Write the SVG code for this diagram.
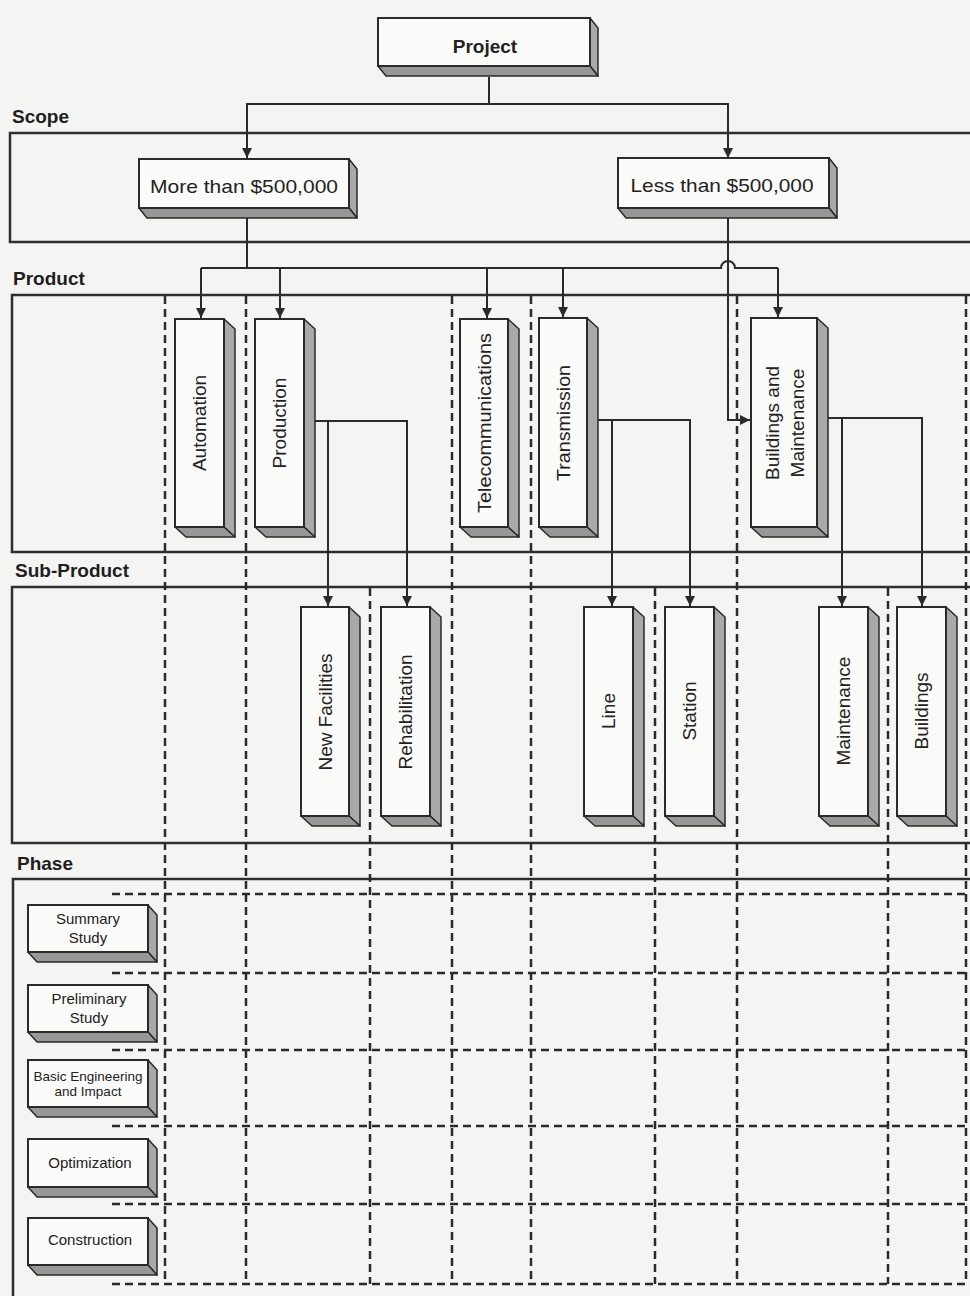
<svg xmlns="http://www.w3.org/2000/svg" width="970" height="1296" viewBox="0 0 970 1296">
<defs>
<marker id="ah" viewBox="0 0 10 10" refX="10" refY="5" markerWidth="10" markerHeight="10" markerUnits="userSpaceOnUse" orient="auto">
<path d="M0,0 L10,5 L0,10 z" fill="#2a2a2a"/>
</marker>
<style>
.bg{fill:#f4f4f2}
.band{fill:none;stroke:#2e2e2e;stroke-width:2.5}
.dash{fill:none;stroke:#2a2a2a;stroke-width:2.5;stroke-dasharray:8 5}
.front{fill:#fafaf8;stroke:#2a2a2a;stroke-width:2}
.side{fill:#a9a9a9;stroke:#2a2a2a;stroke-width:1.5;stroke-linejoin:round}
.bot{fill:#979797;stroke:#2a2a2a;stroke-width:1.5;stroke-linejoin:round}
.conn{fill:none;stroke:#2a2a2a;stroke-width:2}
.lbl{font-family:"Liberation Sans",Arial,sans-serif;font-weight:bold;font-size:19px;fill:#1e1e1e}
.t{font-family:"Liberation Sans",Arial,sans-serif;font-size:19px;fill:#222;text-anchor:middle}
.tb{font-family:"Liberation Sans",Arial,sans-serif;font-size:19px;font-weight:bold;fill:#222;text-anchor:middle}
.ts{font-family:"Liberation Sans",Arial,sans-serif;font-size:15px;fill:#222;text-anchor:middle}
.tx{font-family:"Liberation Sans",Arial,sans-serif;font-size:13.5px;fill:#222;text-anchor:middle}
</style>
</defs>
<rect class="bg" x="0" y="0" width="970" height="1296"/>

<!-- bands -->
<g id="bands">
<text class="lbl" x="12" y="123">Scope</text>
<rect class="band" x="10" y="133" width="970" height="109"/>
<text class="lbl" x="13" y="285">Product</text>
<rect class="band" x="12" y="295" width="970" height="257"/>
<text class="lbl" x="15" y="577">Sub-Product</text>
<rect class="band" x="12" y="587" width="970" height="256"/>
<text class="lbl" x="17" y="870">Phase</text>
<path class="band" d="M980,879 H13 V1300"/>
</g>

<!-- grid -->
<g id="grid">
<path class="dash" d="M165,296 V1284 M246,296 V1284 M452,296 V1284 M531,296 V1284 M737,296 V1284 M966,296 V1284"/>
<path class="dash" d="M370,588 V1284 M655,588 V1284 M888,588 V1284"/>
<path class="dash" d="M112,894 H970 M112,973 H970 M112,1050 H970 M112,1126 H970 M112,1204 H970 M112,1284 H970"/>
</g>

<!-- connectors -->
<g id="connectors">
<path class="conn" d="M489,77 V104 H247 V158" marker-end="url(#ah)"/>
<path class="conn" d="M489,104 H728 V158" marker-end="url(#ah)"/>
<path class="conn" d="M247,218 V268"/>
<path class="conn" d="M201,268 H721 A7,7 0 0 1 735,268 H778"/>
<path class="conn" d="M201,268 V318" marker-end="url(#ah)"/>
<path class="conn" d="M280,268 V318" marker-end="url(#ah)"/>
<path class="conn" d="M487,268 V318" marker-end="url(#ah)"/>
<path class="conn" d="M563,268 V317" marker-end="url(#ah)"/>
<path class="conn" d="M778,268 V317" marker-end="url(#ah)"/>
<path class="conn" d="M728,218 V420 H750" marker-end="url(#ah)"/>
<path class="conn" d="M315,421 H407 V606" marker-end="url(#ah)"/>
<path class="conn" d="M328,421 V606" marker-end="url(#ah)"/>
<path class="conn" d="M598,420 H690 V606" marker-end="url(#ah)"/>
<path class="conn" d="M612,420 V606" marker-end="url(#ah)"/>
<path class="conn" d="M828,418 H922 V606" marker-end="url(#ah)"/>
<path class="conn" d="M842,418 V606" marker-end="url(#ah)"/>
</g>

<!-- project -->
<g id="project">
<polygon class="side" points="590,18 598,28 598,76 590,66"/>
<polygon class="bot" points="378,66 590,66 598,76 386,76"/>
<rect class="front" x="378" y="18" width="212" height="48"/>
<text class="tb" x="485" y="53">Project</text>
</g>

<g id="more">
<polygon class="side" points="349,159 357,169 357,218 349,208"/>
<polygon class="bot" points="139,208 349,208 357,218 147,218"/>
<rect class="front" x="139" y="159" width="210" height="49"/>
<text class="t" x="244" y="193" font-size="20" textLength="188" lengthAdjust="spacingAndGlyphs">More than $500,000</text>
</g>

<g id="less">
<polygon class="side" points="829,158 837,168 837,218 829,208"/>
<polygon class="bot" points="618,208 829,208 837,218 626,218"/>
<rect class="front" x="618" y="158" width="211" height="50"/>
<text class="t" x="722" y="192" font-size="20" textLength="183" lengthAdjust="spacingAndGlyphs">Less than $500,000</text>
</g>

<!-- products -->
<g id="automation">
<polygon class="side" points="224,319 235,329 235,537 224,527"/>
<polygon class="bot" points="175,527 224,527 235,537 186,537"/>
<rect class="front" x="175" y="319" width="49" height="208"/>
<text class="t" transform="translate(206,423) rotate(-90)" x="0" y="0">Automation</text>
</g>
<g id="production">
<polygon class="side" points="304,319 315,329 315,537 304,527"/>
<polygon class="bot" points="255,527 304,527 315,537 266,537"/>
<rect class="front" x="255" y="319" width="49" height="208"/>
<text class="t" transform="translate(286,423) rotate(-90)" x="0" y="0">Production</text>
</g>
<g id="telecommunications">
<polygon class="side" points="508,319 519,329 519,537 508,527"/>
<polygon class="bot" points="460,527 508,527 519,537 471,537"/>
<rect class="front" x="460" y="319" width="48" height="208"/>
<text class="t" transform="translate(491,423) rotate(-90)" x="0" y="0" textLength="180" lengthAdjust="spacingAndGlyphs">Telecommunications</text>
</g>
<g id="transmission">
<polygon class="side" points="587,318 598,328 598,537 587,527"/>
<polygon class="bot" points="539,527 587,527 598,537 550,537"/>
<rect class="front" x="539" y="318" width="48" height="209"/>
<text class="t" transform="translate(570,423) rotate(-90)" x="0" y="0" textLength="116" lengthAdjust="spacingAndGlyphs">Transmission</text>
</g>
<g id="buildings-and-maintenance">
<polygon class="side" points="817,318 828,328 828,537 817,527"/>
<polygon class="bot" points="751,527 817,527 828,537 762,537"/>
<rect class="front" x="751" y="318" width="66" height="209"/>
<text class="t" transform="translate(779,423) rotate(-90)" x="0" y="0">Buildings and</text>
<text class="t" transform="translate(804,423) rotate(-90)" x="0" y="0">Maintenance</text>
</g>

<!-- sub-products -->
<g id="new-facilities">
<polygon class="side" points="349,607 360,617 360,826 349,816"/>
<polygon class="bot" points="301,816 349,816 360,826 312,826"/>
<rect class="front" x="301" y="607" width="48" height="209"/>
<text class="t" transform="translate(332,712) rotate(-90)" x="0" y="0">New Facilities</text>
</g>
<g id="rehabilitation">
<polygon class="side" points="430,607 441,617 441,826 430,816"/>
<polygon class="bot" points="381,816 430,816 441,826 392,826"/>
<rect class="front" x="381" y="607" width="49" height="209"/>
<text class="t" transform="translate(412,712) rotate(-90)" x="0" y="0">Rehabilitation</text>
</g>
<g id="line">
<polygon class="side" points="633,607 644,617 644,826 633,816"/>
<polygon class="bot" points="584,816 633,816 644,826 595,826"/>
<rect class="front" x="584" y="607" width="49" height="209"/>
<text class="t" transform="translate(615,711) rotate(-90)" x="0" y="0">Line</text>
</g>
<g id="station">
<polygon class="side" points="714,607 725,617 725,826 714,816"/>
<polygon class="bot" points="665,816 714,816 725,826 676,826"/>
<rect class="front" x="665" y="607" width="49" height="209"/>
<text class="t" transform="translate(696,711) rotate(-90)" x="0" y="0">Station</text>
</g>
<g id="maintenance">
<polygon class="side" points="868,607 879,617 879,826 868,816"/>
<polygon class="bot" points="819,816 868,816 879,826 830,826"/>
<rect class="front" x="819" y="607" width="49" height="209"/>
<text class="t" transform="translate(850,711) rotate(-90)" x="0" y="0">Maintenance</text>
</g>
<g id="buildings">
<polygon class="side" points="946,607 957,617 957,826 946,816"/>
<polygon class="bot" points="897,816 946,816 957,826 908,826"/>
<rect class="front" x="897" y="607" width="49" height="209"/>
<text class="t" transform="translate(928,711) rotate(-90)" x="0" y="0">Buildings</text>
</g>

<!-- phases -->
<g id="summary-study">
<polygon class="side" points="148,905 157,915 157,962 148,952"/>
<polygon class="bot" points="28,952 148,952 157,962 37,962"/>
<rect class="front" x="28" y="905" width="120" height="47"/>
<text class="ts" x="88" y="924">Summary</text>
<text class="ts" x="88" y="943">Study</text>
</g>
<g id="preliminary-study">
<polygon class="side" points="148,985 157,995 157,1042 148,1032"/>
<polygon class="bot" points="28,1032 148,1032 157,1042 37,1042"/>
<rect class="front" x="28" y="985" width="120" height="47"/>
<text class="ts" x="89" y="1004">Preliminary</text>
<text class="ts" x="89" y="1023">Study</text>
</g>
<g id="basic-engineering">
<polygon class="side" points="148,1060 157,1070 157,1117 148,1107"/>
<polygon class="bot" points="28,1107 148,1107 157,1117 37,1117"/>
<rect class="front" x="28" y="1060" width="120" height="47"/>
<text class="tx" x="88" y="1081">Basic Engineering</text>
<text class="tx" x="88" y="1096">and Impact</text>
</g>
<g id="optimization">
<polygon class="side" points="148,1139 157,1149 157,1197 148,1187"/>
<polygon class="bot" points="28,1187 148,1187 157,1197 37,1197"/>
<rect class="front" x="28" y="1139" width="120" height="48"/>
<text class="ts" x="90" y="1168">Optimization</text>
</g>
<g id="construction">
<polygon class="side" points="148,1218 157,1228 157,1275 148,1265"/>
<polygon class="bot" points="28,1265 148,1265 157,1275 37,1275"/>
<rect class="front" x="28" y="1218" width="120" height="47"/>
<text class="ts" x="90" y="1245">Construction</text>
</g>
</svg>
